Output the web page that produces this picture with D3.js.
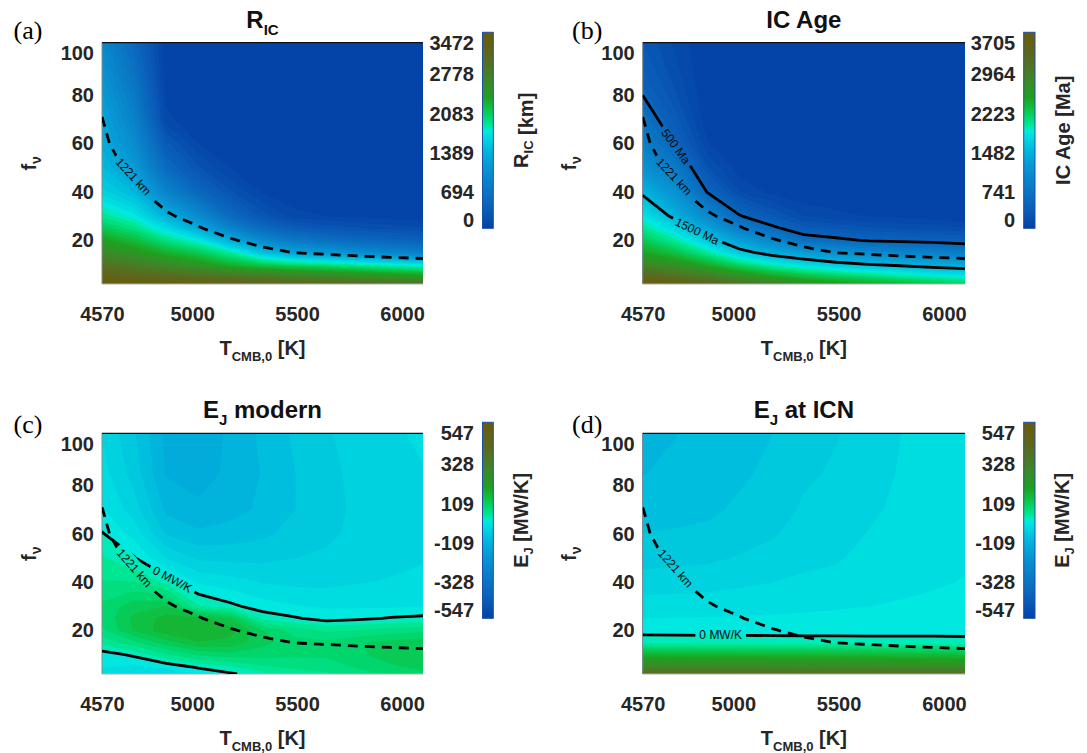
<!DOCTYPE html>
<html>
<head>
<meta charset="utf-8">
<script src="https://cdn.jsdelivr.net/npm/d3@7"></script>
<style>
  body { margin: 0; background: #fff; }
  svg { display: block; font-family: "Liberation Sans", Arial, Helvetica, sans-serif; }
</style>
</head>
<body>
<svg id="vis" width="1087" height="753"></svg>
<script>
// grid of the runs: columns are T_CMB,0, rows are f_nu (bottom to top)
const T_VALUES = [4570, 4723, 4876, 5029, 5182, 5335, 5488, 5641, 5794, 5947, 6100];
const F_VALUES = [2, 5, 10, 15, 20, 25, 30, 40, 50, 60, 70, 85, 101.5];

// inner core radius [km]
const R_IC = [
  [3440, 3380, 3330, 3250, 3200, 3150, 3100, 3050, 3000, 2950, 2900],
  [3230, 3120, 3040, 2950, 2880, 2800, 2720, 2640, 2560, 2480, 2400],
  [2900, 2740, 2580, 2420, 2200, 2050, 1950, 1880, 1800, 1720, 1650],
  [2600, 2420, 2220, 2050, 1820, 1450, 1200, 1100, 980, 880, 800],
  [2330, 2150, 1900, 1700, 1300, 950, 700, 600, 500, 450, 400],
  [2070, 1900, 1620, 1280, 850, 520, 330, 260, 220, 180, 150],
  [1850, 1700, 1320, 960, 520, 250, 100, 70, 50, 30, 20],
  [1560, 1380, 850, 480, 220, 60, 0, 0, 0, 0, 0],
  [1400, 1120, 520, 220, 65, 0, 0, 0, 0, 0, 0],
  [1300, 960, 300, 70, 0, 0, 0, 0, 0, 0, 0],
  [1230, 830, 90, 10, 0, 0, 0, 0, 0, 0, 0],
  [1080, 660, 30, 0, 0, 0, 0, 0, 0, 0, 0],
  [920, 500, 10, 0, 0, 0, 0, 0, 0, 0, 0]
];

// inner core age [Ma]
const IC_AGE = [
  [3680, 3550, 3350, 3100, 2900, 2700, 2550, 2450, 2350, 2250, 2150],
  [3300, 3150, 2950, 2700, 2480, 2300, 2180, 2080, 1980, 1900, 1820],
  [2800, 2650, 2380, 2100, 1880, 1720, 1600, 1510, 1450, 1380, 1340],
  [2450, 2250, 1950, 1600, 1380, 1230, 1080, 1000, 920, 880, 800],
  [2200, 1950, 1620, 1250, 950, 640, 560, 480, 450, 420, 380],
  [1980, 1700, 1300, 850, 560, 340, 280, 240, 210, 190, 170],
  [1800, 1430, 1000, 520, 300, 150, 100, 70, 50, 30, 0],
  [1450, 1100, 490, 150, 50, 0, 0, 0, 0, 0, 0],
  [1100, 780, 230, 30, 0, 0, 0, 0, 0, 0, 0],
  [850, 480, 80, 0, 0, 0, 0, 0, 0, 0, 0],
  [650, 330, 20, 0, 0, 0, 0, 0, 0, 0, 0],
  [420, 200, 0, 0, 0, 0, 0, 0, 0, 0, 0],
  [300, 130, 0, 0, 0, 0, 0, 0, 0, 0, 0]
];

// ohmic dissipation today [MW/K]
const EJ_MODERN = [
  [-30, -40, -45, -20, -4, 15, 30, 40, 55, 70, 80],
  [-20, -25, -15, 5, 20, 40, 50, 55, 70, 85, 95],
  [-12, 5, 40, 70, 80, 75, 70, 70, 85, 95, 100],
  [30, 60, 100, 130, 125, 95, 75, 72, 85, 95, 100],
  [60, 112, 145, 150, 140, 90, 55, 40, 45, 55, 60],
  [70, 115, 140, 140, 110, 15, 3, -10, -5, 2, 6],
  [70, 100, 110, 25, 6, -12, -20, -25, -25, -25, -22],
  [45, 45, 15, -25, -35, -45, -50, -50, -45, -42, -40],
  [25, 2, -45, -70, -72, -72, -66, -62, -55, -50, -45],
  [2, -30, -90, -105, -100, -92, -80, -70, -60, -53, -48],
  [-20, -55, -115, -128, -118, -105, -88, -73, -61, -53, -48],
  [-35, -75, -133, -138, -128, -108, -88, -72, -59, -51, -45],
  [-45, -85, -138, -142, -128, -104, -84, -68, -56, -47, -40]
];

// ohmic dissipation at inner core nucleation [MW/K]
const EJ_ICN = [
  [405, 402, 398, 395, 392, 390, 388, 386, 384, 382, 380],
  [280, 278, 276, 274, 272, 270, 268, 266, 264, 262, 260],
  [150, 148, 146, 144, 142, 140, 138, 136, 134, 132, 130],
  [14, 13, 12, 12, 11, 10, 10, 9, 8, 8, 7],
  [-8, -8, -8, -8, -8, -8, -8, -8, -7, -7, -7],
  [-22, -21, -21, -20, -19, -18, -17, -16, -14, -13, -12],
  [-33, -32, -31, -30, -28, -26, -24, -22, -20, -18, -16],
  [-57, -55, -53, -48, -44, -40, -37, -31, -27, -24, -21],
  [-74, -72, -70, -64, -58, -50, -46, -38, -32, -28, -24],
  [-87, -85, -83, -76, -68, -58, -53, -43, -36, -31, -27],
  [-99, -96, -92, -84, -76, -63, -58, -48, -39, -34, -29],
  [-110, -106, -101, -91, -83, -69, -63, -53, -42, -36, -31],
  [-118, -110, -104, -96, -88, -74, -67, -57, -44, -38, -33]
];

const X_TICKS = [4570, 5000, 5500, 6000];
const Y_TICKS = [20, 40, 60, 80, 100];
const CB_TICKS_RIC = [0, 694, 1389, 2083, 2778, 3472];
const CB_TICKS_AGE = [0, 741, 1482, 2223, 2964, 3705];
const CB_TICKS_EJ = [-547, -328, -109, 109, 328, 547];

// colour map (blue - cyan - green - brown)
const CMAP_POS = [0, 0.02, 0.085, 0.21, 0.32, 0.39, 0.46, 0.49, 0.505, 0.525, 0.566, 0.612, 0.668, 0.744, 0.866, 1];
const CMAP_HEX = ["#0342a8", "#0446a9", "#0a5ab6", "#0a7ac6", "#0898d4", "#00b4dc", "#00d8e0", "#00e8e0",
                  "#00ebc8", "#00e898", "#00d870", "#10c040", "#20a020", "#3a8a28", "#5a6a20", "#6b5a0a"];

const N_LEVELS = 50;
const nT = T_VALUES.length, nF = F_VALUES.length;

const svg = d3.select("#vis");
const defs = svg.append("defs");
const cmap = d3.scaleLinear().domain(CMAP_POS).range(CMAP_HEX).clamp(true);

const grad = defs.append("linearGradient").attr("id", "cmapGrad")
    .attr("x1", 0).attr("y1", 1).attr("x2", 0).attr("y2", 0);
CMAP_POS.forEach((p, i) => grad.append("stop").attr("offset", p).attr("stop-color", CMAP_HEX[i]));

const PANELS = [
  {key: "a", letter: "(a)", data: R_IC, range: [0, 3472], cbTicks: CB_TICKS_RIC,
   left: 102, right: 423, top: 42.7, bottom: 284, cbX: 482.5, cbW: 10.8, cbTop: 32.3, cbBottom: 228.3,
   title: [["R"], ["IC", 1]], cbLabel: [["R"], ["IC", 1], [" [km]"]], cbLabelX: 527.5, fLabelX: 35.5,
   letterX: 13.5, titleY: 28.3, xLabelY: 355, letterY: 38.5,
   lines: [{data: R_IC, level: 1221, dashed: true, label: "1221 km", at: [4709, 45.4]}]},
  {key: "b", letter: "(b)", data: IC_AGE, range: [0, 3705], cbTicks: CB_TICKS_AGE,
   left: 642.7, right: 965, top: 42.7, bottom: 284, cbX: 1023.7, cbW: 11.3, cbTop: 32.3, cbBottom: 228.3,
   title: [["IC Age"]], cbLabel: [["IC Age [Ma]"]], cbLabelX: 1069.5, fLabelX: 575.6,
   letterX: 572, titleY: 28.3, xLabelY: 355, letterY: 38.5,
   lines: [{data: IC_AGE, level: 500, dashed: false, label: "500 Ma", at: [4726, 58.5]},
           {data: R_IC, level: 1221, dashed: true, label: "1221 km", at: [4710, 45.4]},
           {data: IC_AGE, level: 1500, dashed: false, label: "1500 Ma", at: [4822, 22.4]}]},
  {key: "c", letter: "(c)", data: EJ_MODERN, range: [-547, 547], cbTicks: CB_TICKS_EJ,
   left: 102, right: 423, top: 433.3, bottom: 674, cbX: 482.5, cbW: 10.8, cbTop: 422.3, cbBottom: 618.3,
   title: [["E"], ["J", 1], [" modern", -1]], cbLabel: [["E"], ["J", 1], [" [MW/K]", -1]], cbLabelX: 527.5, fLabelX: 35.5,
   letterX: 13.5, titleY: 418, xLabelY: 745, letterY: 432.5,
   lines: [{data: R_IC, level: 1221, dashed: true, label: "1221 km", at: [4709, 45]},
           {data: EJ_MODERN, level: 0, dashed: false, label: "0 MW/K", at: [4901, 40.2]}]},
  {key: "d", letter: "(d)", data: EJ_ICN, range: [-547, 547], cbTicks: CB_TICKS_EJ,
   left: 642.7, right: 965, top: 433.3, bottom: 674, cbX: 1023.7, cbW: 11.3, cbTop: 422.3, cbBottom: 618.3,
   title: [["E"], ["J", 1], [" at ICN", -1]], cbLabel: [["E"], ["J", 1], [" [MW/K]", -1]], cbLabelX: 1068.5, fLabelX: 575.6,
   letterX: 572, titleY: 418, xLabelY: 745, letterY: 432.5,
   lines: [{data: R_IC, level: 1221, dashed: true, label: "1221 km", at: [4715, 45]},
           {data: EJ_ICN, level: 0, dashed: false, label: "0 MW/K", at: [4941, 17.3]}]}
];

const plainNumber = d => String(d);   // keep the ASCII hyphen for negatives

function styleAxisText(g, size) {
  g.attr("font-family", null).attr("font-size", null);
  g.selectAll("text").attr("font-size", size).attr("font-weight", "bold").attr("fill", "#262626");
  g.select(".domain").remove();
}

// text made of pieces: [string, shift] where shift 1 = go down to subscript, -1 = come back
function richText(sel, parts, size, subSize) {
  parts.forEach(pt => {
    const t = sel.append("tspan").text(pt[0]);
    if (pt[1] === 1) t.attr("font-size", subSize).attr("dy", size * 0.28);
    else if (pt[1] === -1) t.attr("font-size", size).attr("dy", -size * 0.28);
  });
  return sel;
}

function drawPanel(p) {
  const g = svg.append("g").attr("class", "panel-" + p.key);
  const x = d3.scaleLinear().domain([T_VALUES[0], T_VALUES[nT - 1]]).range([p.left, p.right]);
  const y = d3.scaleLinear().domain([F_VALUES[0], F_VALUES[nF - 1]]).range([p.bottom, p.top]);
  const iT = d3.scaleLinear().domain(d3.range(nT)).range(T_VALUES);
  const iF = d3.scaleLinear().domain(d3.range(nF)).range(F_VALUES);

  // d3.contours puts sample i at i + 0.5; clamp to the sampled range
  const toPx = pt => {
    const sx = Math.max(0, Math.min(nT - 1, pt[0] - 0.5));
    const sy = Math.max(0, Math.min(nF - 1, pt[1] - 0.5));
    return [x(iT(sx)), y(iF(sy)), sx, sy];
  };

  defs.append("clipPath").attr("id", "clip-" + p.key)
    .append("rect").attr("x", p.left).attr("y", p.top)
    .attr("width", p.right - p.left).attr("height", p.bottom - p.top);

  // filled contours
  const step = (p.range[1] - p.range[0]) / N_LEVELS;
  const ths = d3.range(N_LEVELS).map(k => p.range[0] + k * step);
  const polys = d3.contours().size([nT, nF]).thresholds(ths)(p.data.flat());
  const ringsPath = mp => mp.coordinates.map(poly => poly.map(ring =>
      "M" + ring.map(pt => { const q = toPx(pt); return q[0].toFixed(2) + "," + q[1].toFixed(2); }).join("L") + "Z"
    ).join("")).join("");

  g.append("g").attr("clip-path", `url(#clip-${p.key})`)
    .selectAll("path").data(polys).join("path")
    .attr("d", ringsPath)
    .attr("fill", mp => cmap((mp.value + step / 2 - p.range[0]) / (p.range[1] - p.range[0])));

  // frame
  g.append("line").attr("x1", p.left).attr("x2", p.left).attr("y1", p.top).attr("y2", p.bottom)
    .attr("stroke", "#8c8c8c").attr("stroke-width", 1);
  g.append("line").attr("x1", p.left).attr("x2", p.right).attr("y1", p.bottom).attr("y2", p.bottom)
    .attr("stroke", "#b0b0b0").attr("stroke-width", 1);
  g.append("line").attr("x1", p.left).attr("x2", p.right).attr("y1", p.top).attr("y2", p.top)
    .attr("stroke", "#111").attr("stroke-width", 1.2);

  // iso lines
  const onEdge = (a, b) => (a[2] === 0 && b[2] === 0) || (a[2] === nT - 1 && b[2] === nT - 1) ||
                           (a[3] === 0 && b[3] === 0) || (a[3] === nF - 1 && b[3] === nF - 1);
  function isoLines(data, level) {
    const mp = d3.contours().size([nT, nF]).contour(data.flat(), level);
    const out = [];
    mp.coordinates.forEach(poly => poly.forEach(ring => {
      const pts = ring.map(toPx);
      const n = pts.length - 1;
      const keep = d3.range(n).map(i => !onEdge(pts[i], pts[i + 1]));
      const start = keep.indexOf(false);
      if (start < 0) { out.push(pts); return; }
      let cur = null;
      for (let k = 1; k <= n; k++) {
        const i = (start + k) % n;
        if (keep[i]) { if (!cur) cur = [pts[i]]; cur.push(pts[i + 1]); }
        else if (cur) { out.push(cur); cur = null; }
      }
      if (cur) out.push(cur);
    }));
    return out.map(l => l.map(q => [q[0], q[1]]));
  }

  const line = d3.line();
  const maskId = "mask-" + p.key;
  const mask = defs.append("mask").attr("id", maskId).attr("maskUnits", "userSpaceOnUse")
    .attr("x", 0).attr("y", 0).attr("width", 1087).attr("height", 753);
  mask.append("rect").attr("width", 1087).attr("height", 753).attr("fill", "#fff");

  const lineG = g.append("g").attr("clip-path", `url(#clip-${p.key})`)
    .append("g").attr("mask", `url(#${maskId})`);
  const labelG = g.append("g");

  p.lines.forEach(ln => {
    const segs = isoLines(ln.data, ln.level);
    const paths = segs.map(s => lineG.append("path")
      .attr("d", line(s)).attr("fill", "none")
      .attr("stroke", "#000").attr("stroke-width", 2.8)
      .attr("stroke-dasharray", ln.dashed ? "10,7" : null));

    // label: nearest point of the line to the target, oriented along it
    const tx = x(ln.at[0]), ty = y(ln.at[1]);
    let best = null;
    paths.forEach(path => {
      const node = path.node(), L = node.getTotalLength();
      for (let l = 0; l <= L; l += 0.5) {
        const q = node.getPointAtLength(l);
        const d = (q.x - tx) ** 2 + (q.y - ty) ** 2;
        if (!best || d < best.d) best = {d, l, node, L};
      }
    });
    if (!best) return;
    const c = best.node.getPointAtLength(best.l);
    const q0 = best.node.getPointAtLength(Math.max(0, best.l - 10));
    const q1 = best.node.getPointAtLength(Math.min(best.L, best.l + 10));
    let ang = Math.atan2(q1.y - q0.y, q1.x - q0.x) * 180 / Math.PI;
    if (ang > 90) ang -= 180;
    if (ang < -90) ang += 180;
    const txt = labelG.append("text")
      .attr("transform", `translate(${c.x},${c.y}) rotate(${ang})`)
      .attr("text-anchor", "middle").attr("dy", "0.35em")
      .attr("font-size", 12).attr("fill", "#0a0a0a")
      .text(ln.label);
    const w = txt.node().getComputedTextLength() + 8;
    mask.append("rect")
      .attr("transform", `translate(${c.x},${c.y}) rotate(${ang})`)
      .attr("x", -w / 2).attr("y", -8).attr("width", w).attr("height", 16)
      .attr("fill", "#000");
  });

  // axes
  g.append("g").attr("transform", `translate(0,${p.bottom})`)
    .call(d3.axisBottom(x).tickValues(X_TICKS).tickFormat(plainNumber).tickSize(0).tickPadding(23))
    .call(ax => styleAxisText(ax, 20));

  g.append("g").attr("transform", `translate(${p.left},0)`)
    .call(d3.axisLeft(y).tickValues(Y_TICKS).tickFormat(plainNumber).tickSize(0).tickPadding(8))
    .call(ax => styleAxisText(ax, 20))
    .selectAll("text").attr("y", d => Math.max(0, p.top + 10.6 - y(d)));

  // colour bar
  g.append("rect").attr("x", p.cbX).attr("y", p.cbTop).attr("width", p.cbW)
    .attr("height", p.cbBottom - p.cbTop).attr("fill", "url(#cmapGrad)")
    .attr("stroke", "#1d4ea6").attr("stroke-width", 1);
  const cb = d3.scaleLinear().domain(p.range).range([p.cbBottom + 3, p.cbTop + 3]);
  g.append("g").attr("transform", `translate(${p.cbX},0)`)
    .call(d3.axisLeft(cb).tickValues(p.cbTicks).tickFormat(plainNumber).tickSize(0).tickPadding(8.5))
    .call(ax => styleAxisText(ax, 20))
    .selectAll("text").attr("y", d => {
      const pos = cb(d);
      return Math.max(p.cbTop + 10.7, Math.min(p.cbBottom - 8.3, pos)) - pos;
    });

  // titles and labels
  const cx = (p.left + p.right) / 2;
  richText(g.append("text").attr("x", cx).attr("y", p.titleY).attr("text-anchor", "middle")
    .attr("font-size", 24).attr("font-weight", "bold").attr("fill", "#111"), p.title, 24, 15);

  richText(g.append("text").attr("x", cx).attr("y", p.xLabelY).attr("text-anchor", "middle")
    .attr("font-size", 20).attr("font-weight", "bold").attr("fill", "#262626"),
    [["T"], ["CMB,0", 1], [" [K]", -1]], 20, 13);

  richText(g.append("text").attr("transform", `translate(${p.fLabelX},${(p.top + p.bottom) / 2}) rotate(-90)`)
    .attr("text-anchor", "middle").attr("font-size", 20).attr("font-weight", "bold").attr("fill", "#262626"),
    [["f"], ["\u03bd", 1]], 20, 14);

  richText(g.append("text")
    .attr("transform", `translate(${p.cbLabelX},${(p.cbTop + p.cbBottom) / 2}) rotate(-90)`)
    .attr("text-anchor", "middle").attr("font-size", 20).attr("font-weight", "bold").attr("fill", "#262626"),
    p.cbLabel, 20, 13);

  g.append("text").attr("x", p.letterX).attr("y", p.letterY)
    .style("font-family", "'Liberation Serif', 'DejaVu Serif', serif").attr("font-size", 26)
    .attr("fill", "#000").text(p.letter);
}

PANELS.forEach(drawPanel);
</script>
</body>
</html>
